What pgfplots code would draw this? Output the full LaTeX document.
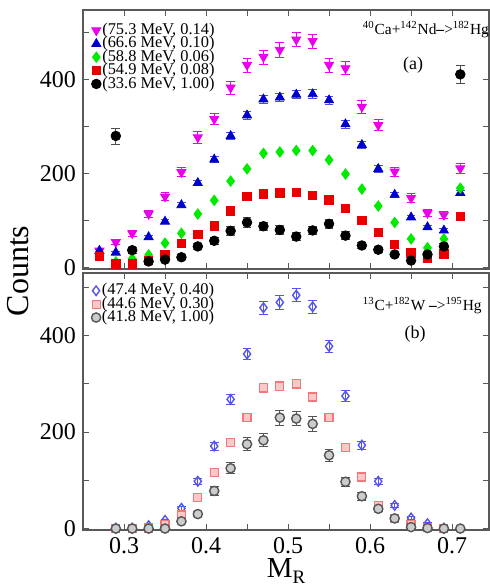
\documentclass[border=0pt]{standalone}
\usepackage{fontspec}
\setmainfont{Liberation Serif}
\usepackage{pgfplots}
\pgfplotsset{compat=1.18}
\usepackage{pgfplotstable}
\usetikzlibrary{calc}

\definecolor{mag}{RGB}{235,0,235}
\definecolor{dblue}{RGB}{0,0,205}
\definecolor{lgreen}{RGB}{0,235,0}
\definecolor{mred}{RGB}{235,0,0}
\definecolor{bblue}{RGB}{85,85,235}
\definecolor{pinkr}{RGB}{240,120,120}
\definecolor{gry}{RGB}{85,85,85}

\pgfplotstableread{
x y e
0.27 36 4
0.29 54 5
0.31 73 6
0.33 114 7
0.35 151 9
0.37 203 10
0.39 277 12
0.41 316 12
0.43 383 14
0.45 431 15
0.47 448 15
0.49 463 15
0.51 485 15
0.53 482 15
0.55 431 15
0.57 424 14
0.59 342 13
0.61 303 12
0.63 204 10
0.65 148 9
0.67 116 8
0.69 112 7
0.71 211 10
}\tmag

\pgfplotstableread{
x y e
0.27 36 3
0.29 32 3
0.33 65 4
0.35 98 4
0.37 133 5
0.39 180 6
0.41 230 7
0.43 280 8
0.45 324 8
0.47 358 9
0.49 362 9
0.51 368 9
0.53 369 9
0.55 356 8
0.57 305 8
0.59 261 7
0.61 210 7
0.63 155 6
0.65 107 5
0.67 86 4
0.69 79 4
0.71 159 6
}\tblue

\pgfplotstableread{
x y
0.29 12
0.31 19
0.33 27
0.35 52
0.37 73
0.39 114
0.41 143
0.43 184
0.45 210
0.47 243
0.49 246
0.51 249
0.53 249
0.55 229
0.57 199
0.59 167
0.61 131
0.63 96
0.65 61
0.67 42
0.69 61
0.71 169
}\tgreen

\pgfplotstableread{
x y
0.27 24
0.29 8
0.31 8
0.33 15
0.35 27
0.37 51
0.39 70
0.41 89
0.43 121
0.45 151
0.47 157
0.49 159
0.51 160
0.53 153
0.55 144
0.57 126
0.59 100
0.61 75
0.63 49
0.65 31
0.67 19
0.69 29
0.71 109
}\tred

\pgfplotstableread{
x y e
0.29 280 17
0.31 37 6
0.33 13 4
0.35 17 4
0.37 22 5
0.39 45 7
0.41 57 8
0.43 78 9
0.45 96 10
0.47 88 9
0.49 80 9
0.51 66 8
0.53 79 9
0.55 93 10
0.57 68 8
0.59 47 7
0.61 38 6
0.63 28 5
0.65 15 4
0.67 28 5
0.69 45 7
0.71 411 20
}\tblack

\pgfplotstableread{
x y e
0.29 1 0.6
0.31 1 0.6
0.33 6 1.5
0.35 17 2.6
0.37 42 4.1
0.39 98 6.3
0.41 171 8.3
0.43 268 10.4
0.45 362 12
0.47 458 13.5
0.49 469 13.7
0.51 484 13.9
0.53 460 13.6
0.55 378 12.3
0.57 275 10.5
0.59 173 8.3
0.61 98 6.3
0.63 48 4.4
0.65 22 3
0.67 10 2
0.69 1 0.6
}\tbblue

\pgfplotstableread{
x y e
0.29 0 0
0.31 0 0
0.33 1 0.5
0.35 9 1.6
0.37 28 2.9
0.39 65 4.4
0.41 117 5.9
0.43 178 7.3
0.45 231 8.3
0.47 292 9.4
0.49 295 9.4
0.51 300 9.5
0.53 273 9.1
0.55 231 8.3
0.57 168 7.1
0.59 107 5.7
0.61 47 3.8
0.63 21 2.5
0.65 9 1.6
0.67 3 0.9
0.69 0 0
}\tbred

\pgfplotstableread{
x y e
0.29 0 0
0.31 0 0
0.33 0 0
0.35 0 0
0.37 15 3.9
0.39 30 5.5
0.41 78 8.8
0.43 125 11.2
0.45 175 13.2
0.47 183 13.5
0.49 230 15.2
0.51 228 15.1
0.53 217 14.7
0.55 152 12.3
0.57 97 9.8
0.59 67 8.2
0.61 41 6.4
0.63 21 4.6
0.65 3 1.7
0.67 1 1
0.69 0 0
0.71 0 0
}\tbgrey

\pgfplotsset{
  panel/.style={
    scale only axis, width=203pt,
    xmin=0.25, xmax=0.745,
    xtick={0.3,0.4,0.5,0.6,0.7},
    minor xtick={0.25,0.35,0.45,0.55,0.65,0.75},
    ytick={0,200,400}, minor ytick={100,300,500},
    tick align=inside, major tick length=3pt, minor tick length=3pt,
    tick style={black!65, line width=0.5pt},
    axis line style={black!65, line width=0.6pt},
    tick label style={font=\fontsize{12}{12}\selectfont},
    /pgf/number format/assume math mode=true,
    xticklabel style={/pgf/number format/fixed},
    legend cell align=left,
    legend style={draw=none, fill=none, font=\fontsize{8.2}{8.2}\selectfont,
      inner sep=0pt, row sep=-1.7pt, anchor=north west,
      nodes={inner sep=0.6pt}},
  },
  lmk/.style={legend image code/.code={\draw[mark repeat=2,mark phase=2,##1] plot coordinates {(0cm,0cm)(0.1cm,0cm)(0.2cm,0cm)};}},
}

\begin{document}
\begin{tikzpicture}
\begin{axis}[panel, name=bot, at={(0,0)}, anchor=south west,
  height=128.5pt, ymin=-3, ymax=530,
  xlabel={M\raisebox{-0.2em}{\fontsize{9.5}{9.5}\selectfont R}},
  xlabel style={font=\fontsize{14.5}{14.5}\selectfont, inner sep=0pt, at={(axis description cs:0.5,0)}, anchor=north, yshift=-14pt},
  legend style={at={(axis description cs:0.02,0.965)}},
]
\addplot[only marks, lmk, mark=diamond, mark size=2.4pt, mark options={draw=bblue, fill=bblue!12, line width=0.7pt},
  error bars/.cd, y dir=both, y explicit, error bar style={bblue, line width=0.5pt}, error mark options={bblue, mark size=2.2pt, rotate=90}]
  table[x=x, y=y, y error=e] {\tbblue};
\addlegendentry{(47.4 MeV, 0.40)}
\addplot[only marks, lmk, mark=square*, mark size=2pt, mark options={draw=pinkr, fill=pinkr!40, line width=0.6pt},
  error bars/.cd, y dir=both, y explicit, error bar style={pinkr, line width=0.5pt}, error mark options={pinkr, mark size=2.2pt, rotate=90}]
  table[x=x, y=y, y error=e] {\tbred};
\addlegendentry{(44.6 MeV, 0.30)}
\addplot[only marks, lmk, mark=*, mark size=2.3pt, mark options={draw=gry, fill=gry!30, line width=0.7pt},
  error bars/.cd, y dir=both, y explicit, error bar style={gry, line width=0.5pt}, error mark options={gry, mark size=2.2pt, rotate=90}]
  table[x=x, y=y, y error=e] {\tbgrey};
\addlegendentry{(41.8 MeV, 1.00)}
\node[anchor=west, font=\fontsize{7.7}{7.7}\selectfont] at (rel axis cs:0.672,0.872)
  {\textsuperscript{13}C+\textsuperscript{182}W \textbf{--}>\textsuperscript{195}Hg};
\node[font=\fontsize{9}{9}\selectfont] at (rel axis cs:0.818,0.762) {(b)};
\end{axis}

\begin{axis}[panel, name=top, at={($(bot.north west)+(0,2pt)$)}, anchor=south west,
  height=129.5pt, ymin=-3, ymax=548,
  xticklabels={},
  legend style={at={(axis description cs:0.02,0.955)}},
]
\addplot[only marks, lmk, mark=triangle*, mark size=2.6pt, mark options={rotate=180, draw=mag, fill=mag},
  error bars/.cd, y dir=both, y explicit, error bar style={mag, line width=0.5pt}, error mark options={mag, mark size=2.2pt, rotate=90}]
  table[x=x, y=y, y error=e] {\tmag};
\addlegendentry{(75.3 MeV, 0.14)}
\addplot[only marks, lmk, mark=triangle*, mark size=2.6pt, mark options={draw=dblue, fill=dblue},
  error bars/.cd, y dir=both, y explicit, error bar style={dblue!70, line width=0.5pt}, error mark options={dblue!70, mark size=2.2pt, rotate=90}]
  table[x=x, y=y, y error=e] {\tblue};
\addlegendentry{(66.6 MeV, 0.10)}
\addplot[only marks, lmk, mark=diamond*, mark size=2.6pt, mark options={draw=lgreen, fill=lgreen}]
  table[x=x, y=y] {\tgreen};
\addlegendentry{(58.8 MeV, 0.06)}
\addplot[only marks, lmk, mark=square*, mark size=2.1pt, mark options={draw=mred, fill=mred}]
  table[x=x, y=y] {\tred};
\addlegendentry{(54.9 MeV, 0.08)}
\addplot[only marks, lmk, mark=*, mark size=2.4pt, mark options={draw=black, fill=black},
  error bars/.cd, y dir=both, y explicit, error bar style={black!70, line width=0.5pt}, error mark options={black!70, mark size=2.2pt, rotate=90}]
  table[x=x, y=y, y error=e] {\tblack};
\addlegendentry{(33.6 MeV, 1.00)}
\node[anchor=west, font=\fontsize{7.7}{7.7}\selectfont] at (rel axis cs:0.672,0.925)
  {\textsuperscript{40}Ca+\textsuperscript{142}Nd\textbf{--}>\textsuperscript{182}Hg};
\node[font=\fontsize{9}{9}\selectfont] at (rel axis cs:0.813,0.785) {(a)};
\end{axis}

\node[rotate=90, font=\fontsize{16}{16}\selectfont] at ($(bot.north west)+(-32.5pt,1pt)$) {Counts};
\pgfresetboundingbox
\path ($(bot.south west)+(-41.5pt,-29pt)$) rectangle ($(top.north east)+(0.5pt,5pt)$);
\end{tikzpicture}
\end{document}
